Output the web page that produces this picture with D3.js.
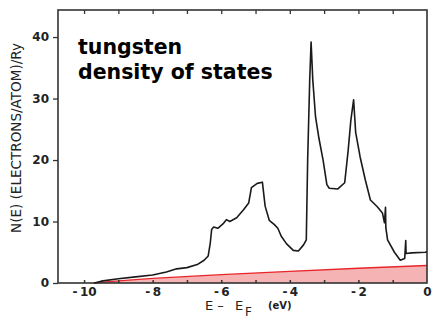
<!DOCTYPE html>
<html>
<head>
<meta charset="utf-8">
<script src="https://cdn.jsdelivr.net/npm/d3@7"></script>
<style>
  body { margin: 0; background: #fff; }
  svg { display: block; }
  .tick text { font-family: "DejaVu Sans", sans-serif; font-weight: bold; fill: #222; }
</style>
</head>
<body>
<svg id="chart" width="436" height="320"></svg>
<script>
// total density of states, black curve (E - E_F in eV, states/atom/Ry)
var energy = [-9.7,-9.5,-9.0,-8.5,-8.0,-7.6,-7.3,-7.0,-6.7,-6.5,-6.38,-6.32,-6.28,-6.22,-6.1,
  -5.95,-5.85,-5.75,-5.55,-5.35,-5.2,-5.12,-4.95,-4.8,-4.72,-4.6,-4.45,-4.35,-4.25,-4.1,
  -3.9,-3.75,-3.6,-3.52,-3.48,-3.42,-3.38,-3.33,-3.25,-3.15,-3.03,-2.92,-2.85,-2.6,-2.4,
  -2.3,-2.22,-2.14,-2.08,-1.95,-1.8,-1.65,-1.45,-1.3,-1.24,-1.21,-1.2,-1.15,-0.95,-0.78,
  -0.65,-0.62,-0.61,-0.45,-0.05,0];
var dos = [0,0.3,0.7,1.0,1.3,1.8,2.3,2.5,3.0,3.7,4.4,6.5,8.7,9.1,8.9,
  9.6,10.3,10.0,10.6,11.9,13.0,15.5,16.2,16.4,12.5,10.2,9.5,8.9,7.6,6.4,
  5.3,5.2,6.2,7.0,20,33,39.2,33,27,23.5,20,16.0,15.4,15.3,16.3,
  21.5,26.5,29.8,24.5,20.5,16.8,13.5,12.4,11.4,9.8,12.3,9.0,7.0,5.0,3.7,
  4.0,6.9,4.8,4.9,5.0,5.1];
// free electron density of states, red shaded curve
var freeEnergy = [-9.72,-9,-8,-6,-4,-2,0];
var freeDos = [0,0.35,0.75,1.35,1.9,2.4,2.85];

var xTicks = [-10,-8,-6,-4,-2,0];
var yTicks = [0,10,20,30,40];
var titleLines = ["tungsten","density of states"];

var svg = d3.select("#chart");
var x = d3.scaleLinear().domain([-10.76,0]).range([58,427]);
var y = d3.scaleLinear().domain([0,44.4]).range([283,10]);

// red free electron area
var freePts = d3.zip(freeEnergy,freeDos);
svg.append("path")
  .datum(freePts)
  .attr("fill","#f5b3b4")
  .attr("d",d3.area().x(function(d){return x(d[0]);}).y0(y(0)).y1(function(d){return y(d[1]);}));
svg.append("path")
  .datum(freePts)
  .attr("fill","none")
  .attr("stroke","#e8262a")
  .attr("stroke-width",1.3)
  .attr("d",d3.line().x(function(d){return x(d[0]);}).y(function(d){return y(d[1]);}));

// frame
svg.append("rect")
  .attr("x",x.range()[0]).attr("y",y.range()[1])
  .attr("width",x.range()[1]-x.range()[0])
  .attr("height",y.range()[0]-y.range()[1])
  .attr("fill","none").attr("stroke","#333").attr("stroke-width",1.6);

// axes
var minor = d3.range(-10,0,1);
var bottom = svg.append("g").attr("transform","translate(0,283)")
  .call(d3.axisBottom(x).tickValues(xTicks).tickSize(0).tickPadding(4)
    .tickFormat(function(d){ return d < 0 ? "-\u2009" + (-d) : d; }));
bottom.select(".domain").remove();
bottom.selectAll("text").attr("font-size",12);

svg.append("g").attr("transform","translate(0,283)")
  .call(d3.axisTop(x).tickValues(minor).tickSize(3).tickFormat(""))
  .call(function(g){ g.select(".domain").remove(); g.selectAll("line").attr("stroke","#333").attr("stroke-width",1.5); });
svg.append("g").attr("transform","translate(0,10)")
  .call(d3.axisBottom(x).tickValues(minor).tickSize(4).tickFormat(""))
  .call(function(g){ g.select(".domain").remove(); g.selectAll("line").attr("stroke","#333").attr("stroke-width",1.3); });

var left = svg.append("g").attr("transform","translate(58,0)")
  .call(d3.axisLeft(y).tickValues(yTicks).tickSize(5).tickPadding(4));
left.select(".domain").remove();
left.selectAll("line").attr("stroke","#333").attr("stroke-width",1.3);
left.selectAll("text").attr("font-size",12);

// black dos curve
svg.append("path")
  .datum(d3.zip(energy,dos))
  .attr("fill","none")
  .attr("stroke","#1a1a1a")
  .attr("stroke-width",1.6)
  .attr("stroke-linejoin","round")
  .attr("d",d3.line().x(function(d){return x(d[0]);}).y(function(d){return y(d[1]);}));

// title
svg.append("g").selectAll("text")
  .data(titleLines).enter().append("text")
  .attr("x",78).attr("y",function(d,i){ return 54 + i*25; })
  .attr("font-family","DejaVu Sans, sans-serif")
  .attr("font-weight","bold")
  .attr("font-size",20.5)
  .attr("fill","#000")
  .text(function(d){ return d; });

// y label
svg.append("text")
  .attr("transform","translate(21,138) rotate(-90)")
  .attr("text-anchor","middle")
  .attr("font-family","DejaVu Sans, sans-serif")
  .attr("font-size",13.5)
  .attr("fill","#222")
  .attr("textLength",190)
  .attr("lengthAdjust","spacingAndGlyphs")
  .text("N(E) (ELECTRONS/ATOM)/Ry");

// x label
var xl = svg.append("text")
  .attr("y",310)
  .attr("font-family","DejaVu Sans, sans-serif")
  .attr("font-size",13)
  .attr("fill","#222");
xl.append("tspan").attr("x",205).text("E \u2013");
xl.append("tspan").attr("x",235).text("E");
xl.append("tspan").attr("x",245).attr("dy",6).attr("font-size",12).text("F");
xl.append("tspan").attr("x",268).attr("dy",-7).attr("font-size",10).attr("font-weight","bold").text("(eV)");
</script>
</body>
</html>
